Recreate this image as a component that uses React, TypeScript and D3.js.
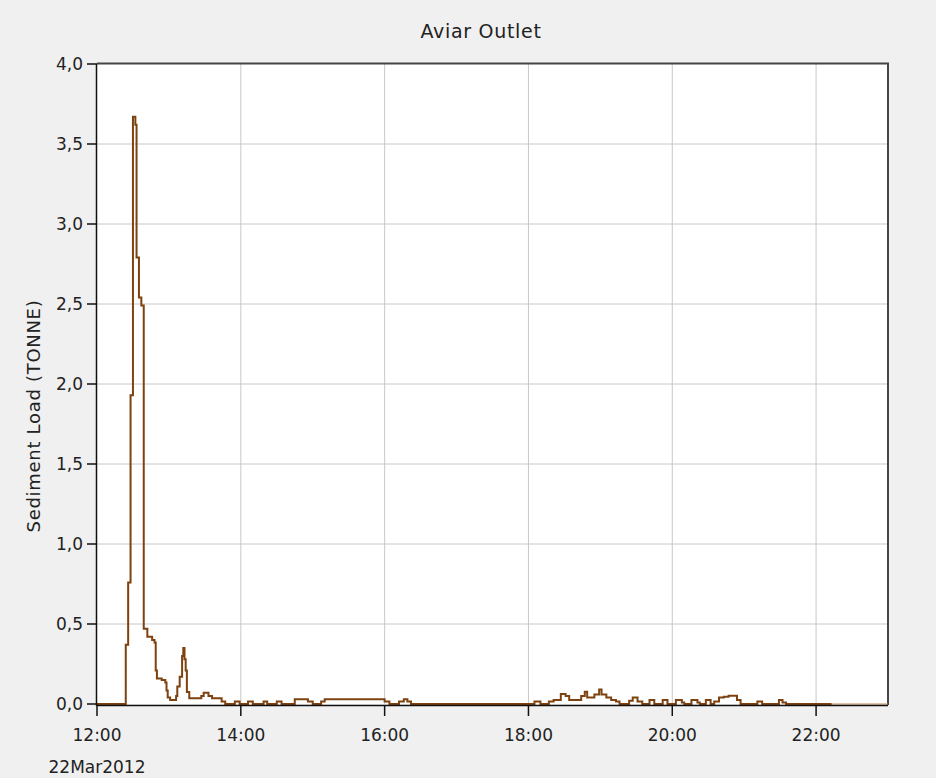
import React from "react";
import * as d3 from "d3";

// minutes after 12:00 on 22Mar2012, step values (TONNE)
const minutes = [
  0, 24, 26, 28, 30, 32, 33, 35, 37, 39, 42, 46, 48, 49, 50, 54, 57, 58, 59, 61,
  66, 67, 69, 71, 72, 73, 74, 75, 77, 87, 89, 93, 96, 104, 107, 115, 119, 126,
  130, 139, 142, 150, 154, 165, 176, 180, 187, 190, 240, 244, 252, 256, 259, 262,
  365, 370, 377, 381, 387, 391, 394, 404, 407, 409, 415, 419, 421, 425, 429, 433,
  436, 444, 447, 451, 455, 461, 465, 472, 476, 483, 488, 490, 496, 501, 503, 508,
  512, 515, 519, 523, 527, 534, 537, 551, 555, 569, 572, 575, 613,
];
const loads = [
  0, 0.37, 0.76, 1.93, 3.67, 3.62, 2.79, 2.54, 2.49, 0.47, 0.42, 0.4, 0.385, 0.21,
  0.16, 0.15, 0.135, 0.085, 0.04, 0.025, 0.05, 0.11, 0.17, 0.3, 0.35, 0.28, 0.21,
  0.075, 0.036, 0.05, 0.07, 0.05, 0.036, 0.015, 0, 0.015, 0, 0.015, 0, 0.015, 0,
  0.015, 0, 0.03, 0.015, 0, 0.015, 0.03, 0.015, 0, 0.015, 0.03, 0.015, 0, 0.015,
  0, 0.015, 0.025, 0.063, 0.05, 0.025, 0.05, 0.077, 0.04, 0.06, 0.09, 0.06, 0.04,
  0.025, 0.015, 0, 0.02, 0.04, 0.015, 0, 0.025, 0, 0.025, 0, 0.025, 0.01, 0,
  0.025, 0.01, 0, 0.025, 0, 0.015, 0.04, 0.045, 0.052, 0.025, 0, 0.015, 0, 0.025,
  0.01, 0, 0,
];
const yTicks = [0, 0.5, 1, 1.5, 2, 2.5, 3, 3.5, 4];
const xTickHours = [12, 14, 16, 18, 20, 22];

const W = 936;
const H = 778;
const base = new Date(2012, 2, 22, 12, 0);
const at = (m: number) => new Date(base.getTime() + m * 60000);

export default function App() {
  const x = d3
    .scaleTime()
    .domain([at(0), at(660)])
    .range([97, 888]);
  const y = d3.scaleLinear().domain([0, 4]).range([704, 64]);

  const pts = minutes.map((m, i) => ({ t: at(m), v: loads[i] }));
  const line = d3
    .line<{ t: Date; v: number }>()
    .x((d) => x(d.t))
    .y((d) => y(d.v))
    .curve(d3.curveStepAfter);

  const fmt = (v: number) => d3.format(".1f")(v).replace(".", ",");
  const font = "DejaVu Sans, Verdana, sans-serif";
  const [x0, x1] = x.range();
  const [y0, y1] = y.range();

  return (
    <svg
      width={W}
      height={H}
      style={{ position: "absolute", left: 0, top: 0, background: "#f0f0f0" }}
      fontFamily={font}
    >
      <rect x={0} y={0} width={W} height={H} fill="#f0f0f0" />
      <rect x={x0} y={y1} width={x1 - x0} height={y0 - y1} fill="#fff" />

      {/* grid */}
      {yTicks.slice(1, -1).map((v) => (
        <line key={"gy" + v} x1={x0} x2={x1} y1={y(v)} y2={y(v)} stroke="#c8c8c8" />
      ))}
      {xTickHours.slice(1).map((h) => (
        <line key={"gx" + h} x1={x(at((h - 12) * 60))} x2={x(at((h - 12) * 60))} y1={y1} y2={y0} stroke="#c8c8c8" />
      ))}

      {/* frame */}
      <line x1={x0} x2={x1 + 1} y1={y1 - 0.5} y2={y1 - 0.5} stroke="#454545" strokeWidth={2} />
      <line x1={x1} x2={x1} y1={y1} y2={y0 + 1} stroke="#454545" strokeWidth={2} />

      {/* series */}
      <path
        d={`M${x(at(613))},${y(0)}H${x1}`}
        fill="none"
        stroke="#c08a55"
        strokeWidth={1.2}
      />
      <path d={line(pts) ?? ""} fill="none" stroke="#7e4210" strokeWidth={2} strokeLinejoin="miter" />

      {/* axes */}
      <line x1={x0 - 0.5} x2={x0 - 0.5} y1={y1} y2={y0 + 2} stroke="#111" strokeWidth={1.5} />
      <line x1={x0} x2={x1} y1={y0 + 1.5} y2={y0 + 1.5} stroke="#111" strokeWidth={1.5} />

      {yTicks.map((v) => (
        <g key={"ty" + v}>
          <line x1={x0 - 10} x2={x0} y1={y(v)} y2={y(v)} stroke="#111" strokeWidth={1.5} />
          <text x={x0 - 14} y={y(v)} dy="0.36em" textAnchor="end" fontSize={17} fill="#222">
            {fmt(v)}
          </text>
        </g>
      ))}
      {xTickHours.map((h) => {
        const px = x(at((h - 12) * 60));
        return (
          <g key={"tx" + h}>
            <line x1={px} x2={px} y1={y0 + 1} y2={y0 + 12} stroke="#111" strokeWidth={1.5} />
            <text x={px} y={741} textAnchor="middle" fontSize={17} fill="#222">
              {d3.timeFormat("%H:%M")(at((h - 12) * 60))}
            </text>
          </g>
        );
      })}
      <text x={x0} y={773} textAnchor="middle" fontSize={17} fill="#222">
        22Mar2012
      </text>

      <text x={481} y={38} textAnchor="middle" fontSize={19} letterSpacing={0.7} fill="#222">
        Aviar Outlet
      </text>
      <text
        transform={`translate(40,${416}) rotate(-90)`}
        textAnchor="middle"
        fontSize={18}
        letterSpacing={0.7}
        fill="#222"
      >
        Sediment Load (TONNE)
      </text>
    </svg>
  );
}
